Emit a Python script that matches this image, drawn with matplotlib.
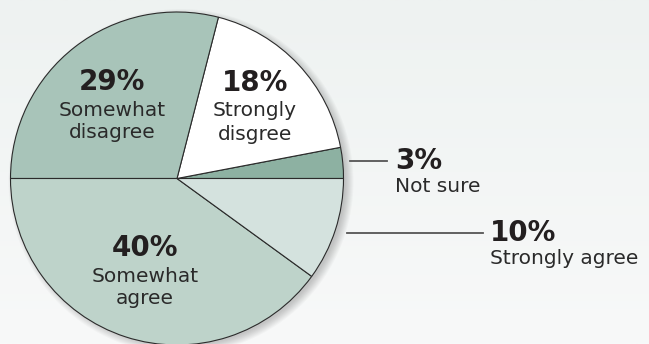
import numpy as np
import matplotlib.pyplot as plt
from matplotlib.patches import Circle

# survey answers, counter-clockwise from 3 o'clock
labels = ['Not sure', 'Strongly\ndisgree', 'Somewhat\ndisagree', 'Somewhat\nagree', 'Strongly agree']
shares = [3, 18, 29, 40, 10]
colors = ['#8db1a2', '#ffffff', '#a8c4b9', '#bed3ca', '#d4e2de']

W, H = 649, 344
CX, CY, R = 177, 165.5, 166.5
INK = '#231f20'
BIG, SMALL = 20, 14.5

plt.rcParams['font.family'] = ['DejaVu Sans']

fig = plt.figure(figsize=(W / 100, H / 100), dpi=100)
ax = fig.add_axes([0, 0, 1, 1])

# soft vertical background
grad = np.linspace(0, 1, 256).reshape(-1, 1)
bg = plt.matplotlib.colors.LinearSegmentedColormap.from_list('bg', ['#f8f9f9', '#eef2f1'])
ax.imshow(grad, extent=(0, W, 0, H), origin='lower', cmap=bg, aspect='auto', zorder=0)

# drop shadow under the pie, pushed to the lower right
for k in range(9):
    ax.add_patch(Circle((CX + 4, CY - 3), R - 2 + k * 1.0, color='black',
                        alpha=0.022, lw=0, zorder=1))

wedges, _ = ax.pie(shares, colors=colors, startangle=0, counterclock=True,
                   center=(CX, CY), radius=R, frame=True,
                   wedgeprops=dict(edgecolor='#2b2b2b', linewidth=0.8))
for w in wedges:
    w.set_zorder(2)

def block(x, y, pct, text, ha='center'):
    ax.text(x, y, f'{pct}%', ha=ha, va='center', fontsize=BIG,
            fontweight='bold', color=INK, zorder=5)
    for i, line in enumerate(text.split('\n')):
        ax.text(x, y - 28 - i * 23, line, ha=ha, va='center', fontsize=SMALL,
                color='#2a2a2a', zorder=5)

block(112, 262, shares[2], labels[2])
block(255, 261, shares[1], labels[1])
block(145, 96, shares[3], labels[3])

# outside labels with leader lines
ax.plot([350, 387], [183, 183], color='#555555', lw=1.3, zorder=4)
ax.text(395, 183, f'{shares[0]}%', ha='left', va='center', fontsize=BIG,
        fontweight='bold', color=INK)
ax.text(395, 158, labels[0], ha='left', va='center', fontsize=SMALL, color='#2a2a2a')

ax.plot([347, 483], [111, 111], color='#555555', lw=1.3, zorder=4)
ax.text(490, 111, f'{shares[4]}%', ha='left', va='center', fontsize=BIG,
        fontweight='bold', color=INK)
ax.text(490, 86, labels[4], ha='left', va='center', fontsize=SMALL, color='#2a2a2a')

ax.set_xlim(0, W)
ax.set_ylim(0, H)
ax.set_aspect('auto')
ax.axis('off')

fig.savefig('out.png', dpi=100)
